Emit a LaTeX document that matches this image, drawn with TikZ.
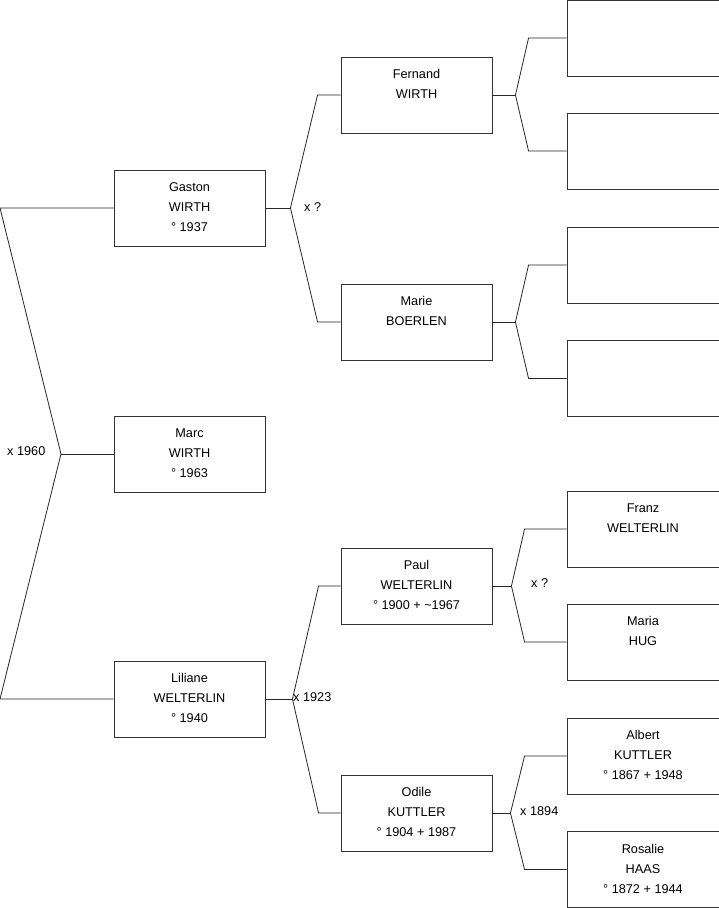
\documentclass[tikz,border=0pt]{standalone}
\usepackage{fontspec}
\setmainfont{Liberation Sans}
\begin{document}
\begin{tikzpicture}[x=1pt,y=-1pt,
  box/.style={draw=black!80, line width=0.9pt, minimum width=151pt, minimum height=76pt, inner sep=0pt},
  txt/.style={font=\fontsize{12.7}{20}\selectfont, align=center, inner sep=0pt, anchor=north},
  lbl/.style={font=\fontsize{12.7}{15}\selectfont, inner sep=0pt, anchor=west},
  conn/.style={draw=black!85, line width=0.8pt}]
\useasboundingbox (0,0) rectangle (719,908);
% level 1
\node[box] (gaston) at (189.5,208) {};
\node[box] (marc) at (189.5,454) {};
\node[box] (liliane) at (189.5,699) {};
% level 2
\node[box] (fernand) at (416.5,95) {};
\node[box] (marie) at (416.5,322) {};
\node[box] (paul) at (416.5,586) {};
\node[box] (odile) at (416.5,813) {};
% level 3
\node[box, minimum width=152pt] (f1) at (643,38) {};
\node[box, minimum width=152pt] (f2) at (643,151) {};
\node[box, minimum width=152pt] (m1) at (643,265) {};
\node[box, minimum width=152pt] (m2) at (643,378.5) {};
\node[box, minimum width=152pt] (franz) at (643,529) {};
\node[box, minimum width=152pt] (maria) at (643,642) {};
\node[box, minimum width=152pt] (albert) at (643,756) {};
\node[box, minimum width=152pt] (rosalie) at (643,869.5) {};
% texts
\node[txt] (tg) at ([yshift=-13pt]gaston.north) {Gaston\\WIRTH\\° 1937};
\node[txt] (tm) at ([yshift=-13pt]marc.north) {Marc\\WIRTH\\° 1963};
\node[txt] (tl) at ([yshift=-13pt]liliane.north) {Liliane\\WELTERLIN\\° 1940};
\node[txt] (tf) at ([yshift=-13pt]fernand.north) {Fernand\\WIRTH};
\node[txt] (tma) at ([yshift=-13pt]marie.north) {Marie\\BOERLEN};
\node[txt] (tp) at ([yshift=-13pt]paul.north) {Paul\\WELTERLIN\\° 1900 + \textasciitilde1967};
\node[txt] (to) at ([yshift=-13pt]odile.north) {Odile\\KUTTLER\\° 1904 + 1987};
\node[txt] (tfr) at ([yshift=-13pt]franz.north) {Franz\\WELTERLIN};
\node[txt] (tmr) at ([yshift=-13pt]maria.north) {Maria\\HUG};
\node[txt] (ta) at ([yshift=-13pt]albert.north) {Albert\\KUTTLER\\° 1867 + 1948};
\node[txt] (tr) at ([yshift=-13pt]rosalie.north) {Rosalie\\HAAS\\° 1872 + 1944};
% root connectors
\coordinate (r1) at (0,208);
\coordinate (rm) at (61,454);
\coordinate (r2) at (0,699);
\draw[conn] (gaston.west) -- (r1) -- (rm) -- (r2) -- (liliane.west);
\draw[conn] (rm) -- (marc.west);
% Gaston fork
\draw[conn] (gaston.east) -- ++(25,0) coordinate (fg);
\draw[conn] (fernand.west) -- ++(-23,0) -- (fg) -- ([xshift=-23pt]marie.west) -- (marie.west);
% Liliane fork
\draw[conn] (liliane.east) -- ++(27,0) coordinate (fl);
\draw[conn] (paul.west) -- ++(-22,0) -- (fl) -- ([xshift=-22pt]odile.west) -- (odile.west);
% Fernand fork
\draw[conn] (fernand.east) -- ++(23,0) coordinate (ff);
\draw[conn] (f1.west) -- ++(-38,0) -- (ff) -- ([xshift=-38pt]f2.west) -- (f2.west);
% Marie fork
\draw[conn] (marie.east) -- ++(23,0) coordinate (fm);
\draw[conn] (m1.west) -- ++(-38,0) -- (fm) -- ([xshift=-38pt]m2.west) -- (m2.west);
% Paul fork
\draw[conn] (paul.east) -- ++(19,0) coordinate (fp);
\draw[conn] (franz.west) -- ++(-42,0) -- (fp) -- ([xshift=-42pt]maria.west) -- (maria.west);
% Odile fork
\draw[conn] (odile.east) -- ++(18,0) coordinate (fo);
\draw[conn] (albert.west) -- ++(-42,0) -- (fo) -- ([xshift=-42pt]rosalie.west) -- (rosalie.west);
% marriage labels
\node[lbl] (x1960) at (7,451) {x 1960};
\node[lbl] (xg) at (304,207) {x ?};
\node[lbl] (x1923) at (293,697) {x 1923};
\node[lbl] (xp) at (531,583) {x ?};
\node[lbl] (x1894) at (520,811) {x 1894};
\end{tikzpicture}
\end{document}
